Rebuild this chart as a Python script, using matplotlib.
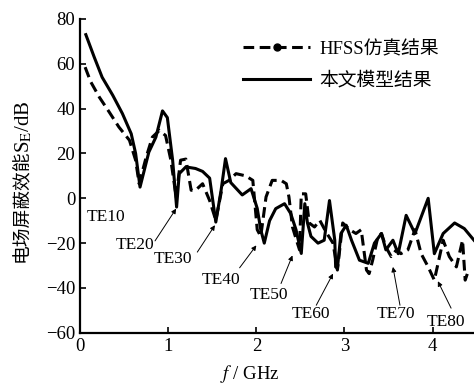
import matplotlib
matplotlib.use("Agg")
import matplotlib.pyplot as plt
from matplotlib.lines import Line2D

# HFSS simulation (dashed)
hfss_f = [0.057, 0.12, 0.22, 0.33, 0.44, 0.56, 0.63, 0.67, 0.75, 0.82, 0.90, 0.97, 1.03, 1.09,
          1.14, 1.20, 1.26, 1.31, 1.39, 1.47, 1.54, 1.62, 1.69, 1.77, 1.88, 1.96, 2.01, 2.05,
          2.11, 2.18, 2.28, 2.34, 2.37, 2.41, 2.45, 2.49, 2.51, 2.56, 2.60, 2.66, 2.72, 2.79,
          2.87, 2.92, 2.98, 3.06, 3.13, 3.19, 3.25, 3.28, 3.32, 3.38, 3.42, 3.47, 3.53, 3.59,
          3.64, 3.72, 3.80, 3.87, 3.95, 4.02, 4.12, 4.19, 4.27, 4.34, 4.37, 4.40]
hfss_se = [58.5, 52, 45, 38.5, 31.8, 25.9, 17, 6.5, 18.4, 27.3, 30.3, 28, 17, 0.6,
           17, 17.5, 3.6, 3.6, 6.5, -1, -9.8, 6.5, 8, 11, 10, 8, -14, -17,
           0.6, 8, 8, 6.5, 0.6, -12.8, -18, -23, 2, 2, -11, -12.8, -9.8, -15,
           -20, -32, -11, -14, -15.7, -14, -32, -33.6, -27.6, -17, -15.7, -21.7, -26, -23,
           -24.7, -23, -14, -24.7, -30.6, -36.5, -18.7, -26, -30.6, -18.7, -36.5, -33]

# Model result (solid)
model_f = [0.065, 0.16, 0.25, 0.37, 0.48, 0.58, 0.63, 0.68, 0.78, 0.86, 0.935, 0.99, 1.05, 1.095,
           1.125, 1.20, 1.31, 1.39, 1.47, 1.54, 1.60, 1.65, 1.71, 1.84, 1.94, 2.01, 2.05, 2.09,
           2.15, 2.22, 2.32, 2.39, 2.45, 2.51, 2.55, 2.58, 2.62, 2.70, 2.77, 2.83, 2.89, 2.90,
           2.92, 2.96, 3.02, 3.08, 3.17, 3.27, 3.34, 3.42, 3.47, 3.55, 3.61, 3.70, 3.80, 3.95,
           4.02, 4.12, 4.25, 4.36, 4.47]
model_se = [73, 63, 54, 46, 37.8, 28.8, 20, 5, 20.6, 27.3, 39, 36, 17, -3.9,
            11, 14, 13.3, 12, 9, -10.6, 3.6, 17.7, 7, 1.5, 4.3, -4.5, -14, -20,
            -10, -4.6, -2.4, -6.8, -14, -24.6, -2.4, -11, -17, -20, -18.7, -1, -18.7, -30.6,
            -31.2, -15.7, -12, -18.7, -27.6, -29, -20, -15.7, -23, -18.7, -24.7, -7.6, -15.7, 0,
            -24.7, -15.7, -11, -13.5, -18.7]

te_labels = ["TE10", "TE20", "TE30", "TE40", "TE50", "TE60", "TE70", "TE80"]
te_text_xy = [(0.08, -8.5), (0.40, -21), (0.83, -27), (1.38, -36.5), (1.93, -43),
              (2.40, -51.4), (3.37, -51.4), (3.93, -55)]
te_arrow_xy = [None, (1.09, -4.6), (1.53, -12), (2.0, -21), (2.41, -25.5),
               (2.87, -33.6), (3.55, -30.6), (4.06, -37)]
te_tail_xy = [None, (0.85, -19), (1.33, -24), (1.81, -31), (2.28, -38),
              (2.68, -47.7), (3.63, -47.7), (4.21, -49)]

plt.rcParams['mathtext.fontset'] = 'stix'
serif = ['Liberation Serif', 'DejaVu Serif']
cjk = ['Liberation Serif', 'Noto Sans CJK SC', 'DejaVu Sans']

fig = plt.figure(figsize=(4.74, 3.87), dpi=100)
ax = fig.add_axes([0.169, 0.14, 0.831, 0.811])

ax.plot(hfss_f, hfss_se, color='black', lw=2.2, ls=(0, (3.5, 1.8)))
ax.plot(model_f, model_se, color='black', lw=2.2)

for lab, txy, axy, tail in zip(te_labels, te_text_xy, te_arrow_xy, te_tail_xy):
    ax.text(txy[0], txy[1], lab, family=serif, fontsize=12.5, ha='left', va='center')
    if axy is not None:
        ax.annotate('', xy=axy, xytext=tail,
                    arrowprops=dict(arrowstyle='-|>', color='black', lw=0.7,
                                    mutation_scale=7, shrinkA=0, shrinkB=0))

ax.set_xlim(0, 4.47)
ax.set_ylim(-60, 80)
ax.set_xticks([0, 1, 2, 3, 4])
ax.set_yticks([-60, -40, -20, 0, 20, 40, 60, 80])
ax.set_yticklabels(['\u221260', '\u221240', '\u221220', '0', '20', '40', '60', '80'])
for s in ['top', 'right']:
    ax.spines[s].set_visible(False)
for s in ['left', 'bottom']:
    ax.spines[s].set_linewidth(1.6)
ax.tick_params(direction='in', length=4, width=1.2, labelsize=13.5)
for lbl in ax.get_xticklabels() + ax.get_yticklabels():
    lbl.set_family(serif)

ax.set_xlabel('$f$ / GHz', family=serif, fontsize=13.5)
ax.xaxis.set_label_coords(0.43, -0.095)

# y label: CJK part + serif part with subscript
fig.canvas.draw()
r = fig.canvas.get_renderer()
t1 = fig.text(22 / 474, 1 - 262 / 387, '电场屏蔽效能', rotation=90, ha='center', va='bottom',
              family=['Noto Sans CJK SC'], fontsize=13.5)
bb = t1.get_window_extent(renderer=r)
t2 = fig.text(23.5 / 474, (bb.y1 - 3) / fig.bbox.height, 'S$_{\\rm E}$/dB', rotation=90,
              ha='center', va='bottom', family=serif, fontsize=15)

handles = [Line2D([], [], color='black', lw=2.2, ls=(0, (3.5, 1.8)), marker='o', markersize=5),
           Line2D([], [], color='black', lw=2.2)]
ax.legend(handles, ['HFSS仿真结果', '本文模型结果'], loc='upper right',
          bbox_to_anchor=(0.955, 0.985), frameon=False, handlelength=3.6,
          prop={'family': cjk, 'size': 13.5}, labelspacing=0.75, handletextpad=0.5)

fig.savefig('out.png', dpi=100)
